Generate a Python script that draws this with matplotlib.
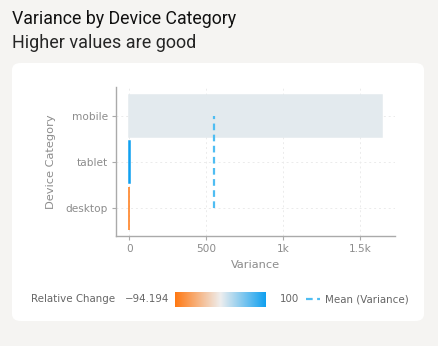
import numpy as np
import matplotlib
matplotlib.use("Agg")
import matplotlib.pyplot as plt
from matplotlib.colors import LinearSegmentedColormap, Normalize
from matplotlib.patches import FancyBboxPatch
from matplotlib.lines import Line2D
from matplotlib.ticker import FuncFormatter

# Data
categories = ["desktop", "tablet", "mobile"]
variance = [-2, 6, 1643]
relative_change = [-94.194, 100, 8]
x_ticks = [0, 500, 1000, 1500]

cmin, cmax = -94.194, 100
mean_var = np.mean(variance)

cmap = LinearSegmentedColormap.from_list("rc", ["#ff7812", "#eeeeee", "#10a0f0"])
norm = Normalize(cmin, cmax)

fig = plt.figure(figsize=(4.38, 3.46), dpi=100)
fig.patch.set_facecolor("#f5f4f2")

# white card
card = FancyBboxPatch((12 / 438, (346 - 321) / 346), (424 - 12) / 438, (321 - 63) / 346,
                      boxstyle="round,pad=0,rounding_size=0.02", transform=fig.transFigure,
                      facecolor="white", edgecolor="none", zorder=-5)
fig.patches.append(card)

fig.text(12 / 438, 1 - 19 / 346, "Variance by Device Category", fontsize=12.8,
         family="Roboto", fontweight="normal", color="#111111", va="center", ha="left")
fig.text(12 / 438, 1 - 43 / 346, "Higher values are good", fontsize=13,
         family="Roboto", fontweight="normal", color="#262626", va="center", ha="left")

ax = fig.add_axes([116 / 438, (346 - 236) / 346, (395 - 116) / 438, (236 - 87) / 346])
ax.set_facecolor("none")
ax.set_zorder(2)

y = np.arange(len(categories))
colors = [cmap(norm(v)) for v in relative_change]
ax.barh(y, variance, height=0.92, color=colors, edgecolor=colors, linewidth=1.1, zorder=2)

ax.plot([mean_var, mean_var], [y[0], y[-1]], color="#4fbdf2", lw=1.6,
        linestyle=(0, (3, 2)), zorder=3)

ax.set_xlim(-86, 1725)
ax.set_ylim(-0.6, 2.63)
ax.set_yticks(y)
ax.set_yticklabels(categories)
ax.set_xticks(x_ticks)
ax.xaxis.set_major_formatter(FuncFormatter(
    lambda v, p: "0" if v == 0 else (f"{v/1000:g}k" if abs(v) >= 1000 else f"{v:g}")))

ax.grid(True, color="#ebebeb", linestyle=(0, (2, 3)), linewidth=0.7, zorder=0)
ax.set_axisbelow(True)
for s in ["top", "right"]:
    ax.spines[s].set_visible(False)
for s in ["left", "bottom"]:
    ax.spines[s].set_color("#aaaaaa")
    ax.spines[s].set_linewidth(1.0)
ax.tick_params(colors="#aaaaaa", labelcolor="#8c8c8c", labelsize=7.6, length=3, width=0.8, pad=3)
ax.set_xlabel("Variance", fontsize=8.2, color="#8c8c8c", labelpad=4)
ax.set_ylabel("Device Category", fontsize=8.2, color="#8c8c8c", labelpad=7)

# legend row: colorbar + mean line
ly = 1 - 299 / 346
fig.text(31 / 438, ly, "Relative Change", fontsize=7.4, color="#666666", va="center", ha="left")
fig.text(169 / 438, ly, "\u221294.194", fontsize=7.4, color="#666666", va="center", ha="right")
fig.text(280 / 438, ly, "100", fontsize=7.4, color="#666666", va="center", ha="left")
cax = fig.add_axes([175 / 438, 1 - 306.5 / 346, (266 - 175) / 438, 14.5 / 346])
cax.imshow(np.linspace(0, 1, 256)[None, :], aspect="auto", cmap=cmap)
cax.set_axis_off()
fig.add_artist(Line2D([306 / 438, 320 / 438], [ly, ly], transform=fig.transFigure,
                      color="#4fbdf2", lw=1.6, linestyle=(0, (3, 2))))
fig.text(325 / 438, ly, "Mean (Variance)", fontsize=7.4, color="#666666", va="center", ha="left")

fig.savefig("out.png", dpi=100, facecolor=fig.get_facecolor())
